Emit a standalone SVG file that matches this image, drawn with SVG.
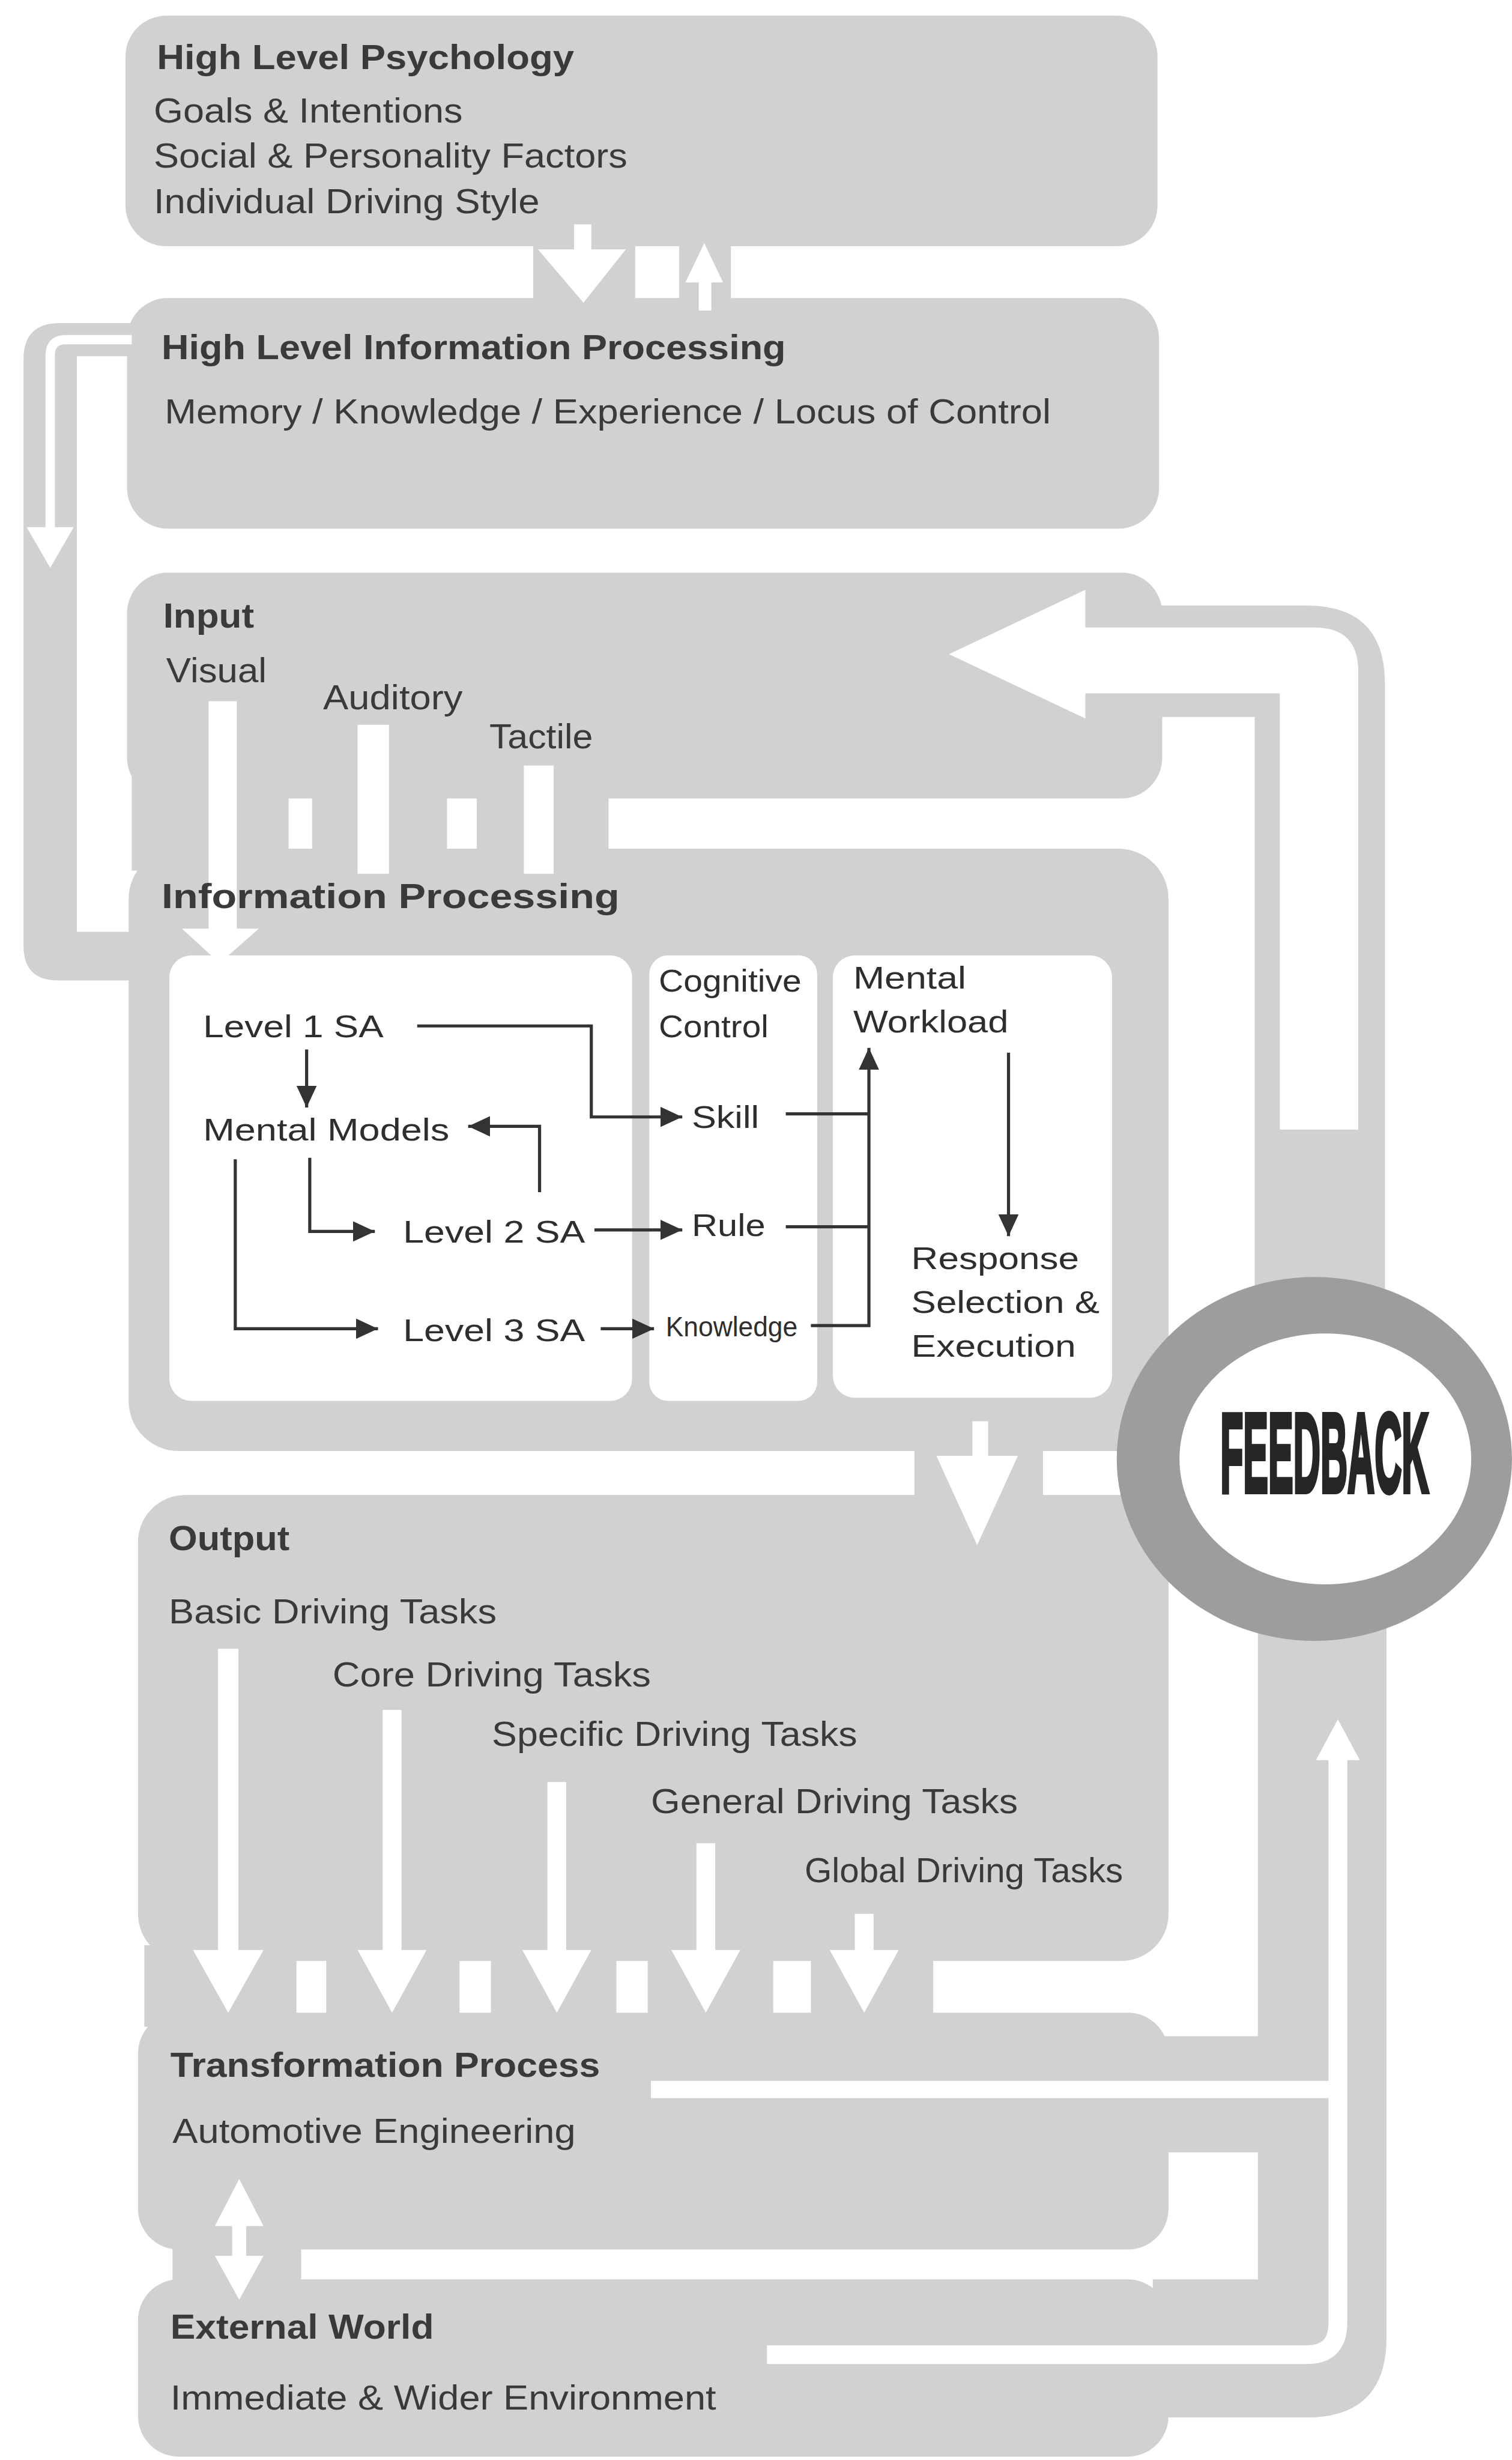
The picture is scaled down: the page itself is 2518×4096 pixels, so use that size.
<svg xmlns="http://www.w3.org/2000/svg" width="2518" height="4096" viewBox="0 0 2518 4096">
<defs>
<style>
.g{fill:#d1d1d1}
.w{fill:#ffffff}
.ws{stroke:#ffffff;fill:none}
.t{font-family:"Liberation Sans",Arial,sans-serif;font-size:22px;fill:#3a3a3a}
.b{font-weight:bold;font-size:22px}
.it{font-family:"Liberation Sans",Arial,sans-serif;font-size:20px;fill:#2e2e2e}
.ln{stroke:#333333;stroke-width:2;fill:none}
.fb{font-family:"Liberation Sans",Arial,sans-serif;font-size:72px;font-weight:bold;fill:#262626;stroke:#262626;stroke-width:3}
</style>
<marker id="ah" markerUnits="userSpaceOnUse" markerWidth="14" markerHeight="13" refX="14" refY="6.5" orient="auto"><path d="M0,0 L14,6.5 L0,13 z" fill="#333333"/></marker>
</defs>
<rect width="2518" height="4096" fill="#ffffff"/>
<g transform="scale(2.612)">

<g id="node-high-level-psychology">
<rect class="g" x="80" y="10" width="658" height="147" rx="26"/>
<text class="t b" x="100" y="44" textLength="266" lengthAdjust="spacingAndGlyphs">High Level Psychology</text>
<text class="t" x="98" y="78" textLength="197" lengthAdjust="spacingAndGlyphs">Goals &amp; Intentions</text>
<text class="t" x="98" y="107" textLength="302" lengthAdjust="spacingAndGlyphs">Social &amp; Personality Factors</text>
<text class="t" x="98" y="136" textLength="246" lengthAdjust="spacingAndGlyphs">Individual Driving Style</text>
</g>

<g id="node-high-level-information-processing">
<rect class="g" x="81" y="190" width="658" height="147" rx="26"/>
<text class="t b" x="103" y="229" textLength="398" lengthAdjust="spacingAndGlyphs">High Level Information Processing</text>
<text class="t" x="105" y="270" textLength="565" lengthAdjust="spacingAndGlyphs">Memory / Knowledge / Experience / Locus of Control</text>
</g>

<g id="node-input">
<rect class="g" x="81" y="365" width="660" height="144" rx="26"/>
<text class="t b" x="104" y="400" textLength="58" lengthAdjust="spacingAndGlyphs">Input</text>
<text class="t" x="106" y="435" textLength="64" lengthAdjust="spacingAndGlyphs">Visual</text>
<text class="t" x="206" y="452" textLength="89" lengthAdjust="spacingAndGlyphs">Auditory</text>
<text class="t" x="312" y="477" textLength="66" lengthAdjust="spacingAndGlyphs">Tactile</text>
</g>

<g id="node-information-processing">
<rect class="g" x="82" y="541" width="663" height="384" rx="32"/>
<rect class="w" x="108" y="609" width="295" height="284" rx="14"/>
<rect class="w" x="414" y="609" width="107" height="284" rx="12"/>
<rect class="w" x="531" y="609" width="178" height="282" rx="14"/>
</g>

<g id="node-level-1-sa"><text class="it" x="129.5" y="661" textLength="115" lengthAdjust="spacingAndGlyphs">Level 1 SA</text></g>
<g id="node-mental-models"><text class="it" x="129.5" y="727" textLength="157" lengthAdjust="spacingAndGlyphs">Mental Models</text></g>
<g id="node-level-2-sa"><text class="it" x="257" y="792" textLength="116" lengthAdjust="spacingAndGlyphs">Level 2 SA</text></g>
<g id="node-level-3-sa"><text class="it" x="257" y="855" textLength="116" lengthAdjust="spacingAndGlyphs">Level 3 SA</text></g>
<g id="node-cognitive-control">
<text class="it" x="420" y="632" textLength="91" lengthAdjust="spacingAndGlyphs">Cognitive</text>
<text class="it" x="420" y="661" textLength="70" lengthAdjust="spacingAndGlyphs">Control</text>
</g>
<g id="node-skill"><text class="it" x="441" y="719" textLength="43" lengthAdjust="spacingAndGlyphs">Skill</text></g>
<g id="node-rule"><text class="it" x="441" y="788" textLength="47" lengthAdjust="spacingAndGlyphs">Rule</text></g>
<g id="node-knowledge"><text class="it" x="424.5" y="852" style="font-size:18px" textLength="84" lengthAdjust="spacingAndGlyphs">Knowledge</text></g>
<g id="node-mental-workload">
<text class="it" x="544" y="630" textLength="72" lengthAdjust="spacingAndGlyphs">Mental</text>
<text class="it" x="544" y="658" textLength="99" lengthAdjust="spacingAndGlyphs">Workload</text>
</g>
<g id="node-response">
<text class="it" x="581" y="809" textLength="107" lengthAdjust="spacingAndGlyphs">Response</text>
<text class="it" x="581" y="837" textLength="120" lengthAdjust="spacingAndGlyphs">Selection &amp;</text>
<text class="it" x="581" y="865" textLength="105" lengthAdjust="spacingAndGlyphs">Execution</text>
</g>

<g id="node-output">
<rect class="g" x="88" y="953" width="657" height="297" rx="30"/>
<text class="t b" x="107.6" y="988" textLength="77" lengthAdjust="spacingAndGlyphs">Output</text>
<text class="t" x="107.6" y="1035" textLength="209" lengthAdjust="spacingAndGlyphs">Basic Driving Tasks</text>
<text class="t" x="212" y="1075" textLength="203" lengthAdjust="spacingAndGlyphs">Core Driving Tasks</text>
<text class="t" x="313.6" y="1113" textLength="233" lengthAdjust="spacingAndGlyphs">Specific Driving Tasks</text>
<text class="t" x="415" y="1156" textLength="234" lengthAdjust="spacingAndGlyphs">General Driving Tasks</text>
<text class="t" x="513" y="1200" textLength="203" lengthAdjust="spacingAndGlyphs">Global Driving Tasks</text>
</g>

<g id="node-transformation-process">
<rect class="g" x="88" y="1283" width="657" height="151" rx="26"/>
<text class="t b" x="108.6" y="1324" textLength="274" lengthAdjust="spacingAndGlyphs">Transformation Process</text>
<text class="t" x="110" y="1366" textLength="257" lengthAdjust="spacingAndGlyphs">Automotive Engineering</text>
</g>

<g id="node-external-world">
<rect class="g" x="88" y="1453" width="657" height="113" rx="26"/>
<text class="t b" x="108.6" y="1491" textLength="168" lengthAdjust="spacingAndGlyphs">External World</text>
<text class="t" x="108.6" y="1536" textLength="348" lengthAdjust="spacingAndGlyphs">Immediate &amp; Wider Environment</text>
</g>

<g id="connectors">
<!-- gray bands -->
<rect class="g" x="340" y="150" width="65" height="48"/>
<rect class="g" x="433" y="150" width="33" height="48"/>
<path class="g" d="M90 206 H38 Q15 206 15 229 V603 Q15 625 37 625 H100 V594 H49 V227 H90 Z"/>
<rect class="g" x="84" y="495" width="100" height="60"/>
<rect class="g" x="199" y="495" width="86" height="60"/>
<rect class="g" x="304" y="495" width="84" height="60"/>
<rect class="g" x="583" y="915" width="82" height="45"/>
<rect class="g" x="92" y="1240" width="97" height="52"/>
<rect class="g" x="208" y="1240" width="85" height="52"/>
<rect class="g" x="313" y="1240" width="80" height="52"/>
<rect class="g" x="413" y="1240" width="80" height="52"/>
<rect class="g" x="517" y="1240" width="78" height="52"/>
<rect class="g" x="110" y="1420" width="82" height="45"/>
<path class="g" d="M689 386 H833 Q883 386 883 436 V840 H800 V457 H689 Z"/>
<path class="g" d="M802 1030 H884 V1490 Q884 1541 833 1541 H735 V1453 H802 Z"/>
<rect class="g" x="735" y="1298" width="70" height="74"/>

<!-- white arrows -->
<rect class="w" x="366" y="143" width="11" height="18"/>
<polygon class="w" points="343,159 399,159 372,193"/>
<polygon class="w" points="449,155 437,180 461,180"/>
<rect class="w" x="445.5" y="178" width="8" height="20"/>
<path class="ws" stroke-width="6" d="M84 216.5 H42 Q32 216.5 32 226.5 V340"/>
<polygon class="w" points="17,336 47,336 32,362"/>
<rect class="w" x="133" y="447" width="18" height="150"/>
<polygon class="w" points="116,592 165,592 140,614"/>
<rect class="w" x="228" y="462" width="20" height="95"/>
<rect class="w" x="334" y="488" width="19" height="69"/>
<path class="w" d="M689 400 H838 Q866 400 866 428 V720 H816 V442 H689 Z"/>
<polygon class="w" points="605,417 692,376 692,458"/>
<rect class="w" x="620" y="906" width="10" height="25"/>
<polygon class="w" points="597,928 649,928 623,985"/>
<rect class="w" x="139" y="1051" width="13" height="195"/>
<polygon class="w" points="123,1243 168,1243 145.5,1283"/>
<rect class="w" x="244" y="1090" width="12" height="156"/>
<polygon class="w" points="228,1243 272,1243 250,1283"/>
<rect class="w" x="349" y="1136" width="12" height="110"/>
<polygon class="w" points="333,1243 377,1243 355,1283"/>
<rect class="w" x="444" y="1175" width="12" height="71"/>
<polygon class="w" points="428,1243 472,1243 450,1283"/>
<rect class="w" x="545" y="1220" width="12" height="26"/>
<polygon class="w" points="529,1243 573,1243 551,1283"/>
<rect class="w" x="148" y="1410" width="9" height="35"/>
<polygon class="w" points="152.5,1389 137,1419 168,1419"/>
<polygon class="w" points="137,1438 168,1438 152.5,1466"/>
<path class="ws" stroke-width="11" d="M415 1332 H853"/>
<path class="ws" stroke-width="12" d="M489 1501 H833 Q853 1501 853 1481 V1118"/>
<polygon class="w" points="839,1122 867,1122 853,1096"/>

<!-- inner dark connectors -->
<path class="ln" marker-end="url(#ah)" d="M266 654 H377 V712 H435"/>
<path class="ln" marker-end="url(#ah)" d="M195.5 669 V706"/>
<path class="ln" marker-end="url(#ah)" d="M344 760 V718 H298.5"/>
<path class="ln" marker-end="url(#ah)" d="M197.5 738 V785 H239"/>
<path class="ln" marker-end="url(#ah)" d="M150 739 V847 H241"/>
<path class="ln" marker-end="url(#ah)" d="M379 784 H435"/>
<path class="ln" marker-end="url(#ah)" d="M383 847 H417"/>
<path class="ln" d="M501 710 H554"/>
<path class="ln" d="M501 782 H554"/>
<path class="ln" marker-end="url(#ah)" d="M517 845 H554 V668"/>
<path class="ln" marker-end="url(#ah)" d="M643 671 V788"/>
</g>

<g id="node-information-processing-label">
<text class="t b" x="103" y="579" textLength="292" lengthAdjust="spacingAndGlyphs">Information Processing</text>
</g>

<g id="node-feedback">
<ellipse cx="838" cy="930" rx="126" ry="116" fill="#9d9d9d"/>
<ellipse cx="845" cy="930" rx="93" ry="80" fill="#ffffff"/>
<text class="fb" transform="translate(778,951) scale(0.3325,1)" x="0" y="0" textLength="400" lengthAdjust="spacingAndGlyphs">FEEDBACK</text>
</g>

</g>
</svg>
